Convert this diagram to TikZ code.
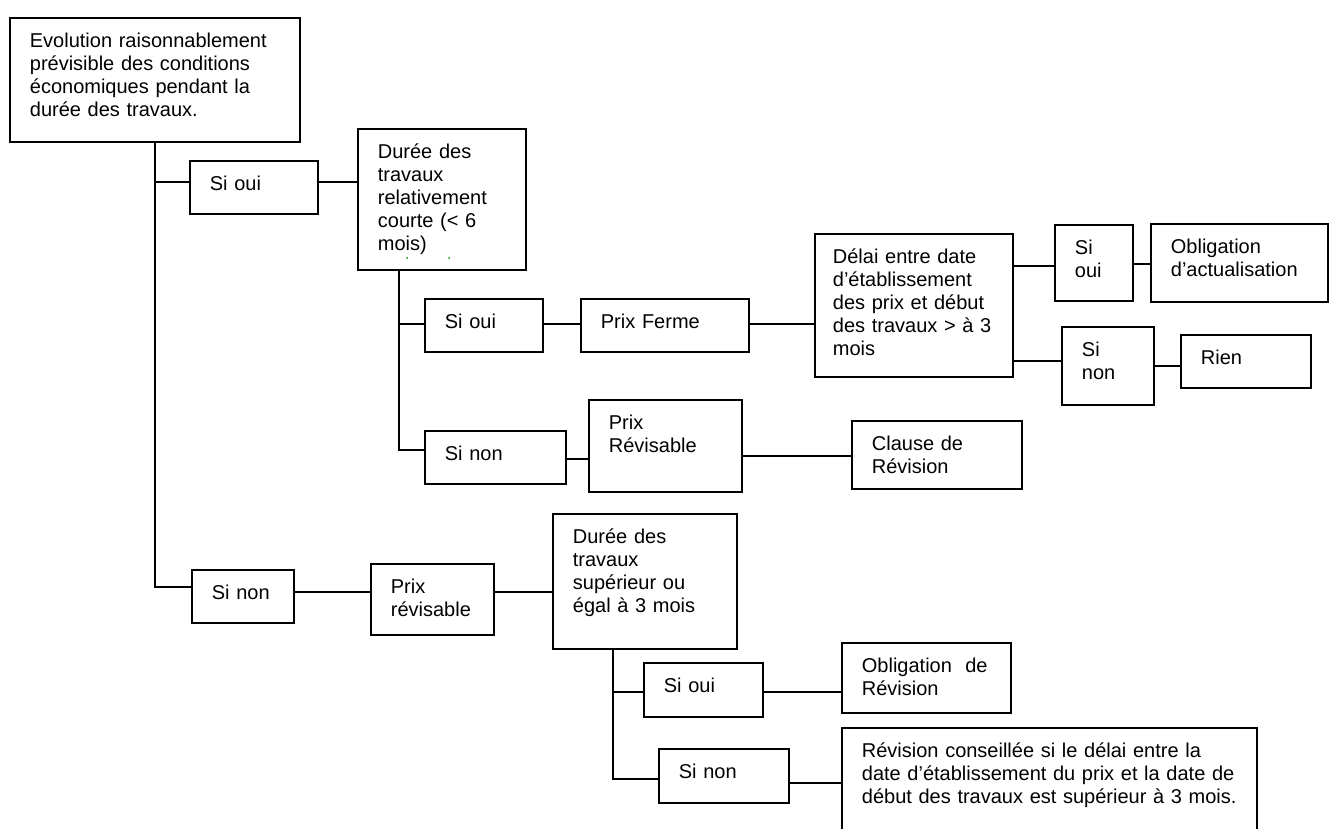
\documentclass[tikz,border=0pt]{standalone}
\usepackage{fontspec}
\setmainfont{Liberation Sans}

\tikzset{
  cell/.style={draw, line width=1.8pt, anchor=north west, align=left,
    inner xsep=20pt, inner ysep=0pt, text height=29.5pt, text depth=23.5pt,
    font=\fontsize{20}{23}\selectfont},
  link/.style={line width=1.5pt},
}

\begin{document}
\begin{tikzpicture}[x=1pt, y=-1pt]
  \useasboundingbox (0,0) rectangle (1330,829);

  \node[cell, text width=250pt, text depth=94.5pt] (evol) at (9,17)
    {Evolution raisonnablement\\prévisible des conditions\\économiques pendant la\\durée des travaux.};

  % premier cas : si oui
  \node[cell, text width=88pt] (soui1) at (189,160) {Si oui};
  \node[cell, text width=128pt, text depth=111.5pt] (durA) at (357,128)
    {Durée des\\travaux\\relativement\\courte (< 6\\mois)};
  \fill[green!60!black] (407,258) circle (1pt);
  \fill[green!60!black] (449,258) circle (1pt);

  \node[cell, text width=78pt] (soui2) at (424,298) {Si oui};
  \node[cell, text width=128pt] (ferme) at (580,298) {Prix Ferme};
  \node[cell, inner xsep=18pt, text width=162pt, text depth=113.5pt] (delai) at (814,233)
    {Délai entre date\\d’établissement\\des prix et début\\des travaux > à 3\\mois};
  \node[cell, text width=38pt, text depth=46.5pt] (souiS) at (1054,224) {Si\\oui};
  \node[cell, text width=137pt, text depth=48.5pt] (oblA) at (1150,223) {Obligation\\d’actualisation};
  \node[cell, text width=52pt, text depth=48.5pt] (snonS) at (1061,326) {Si\\non};
  \node[cell, text width=90pt] (rien) at (1180,334) {Rien};

  \node[cell, text width=101pt] (snon2) at (424,430) {Si non};
  \node[cell, text width=113pt, text depth=62.5pt] (prixR) at (588,399) {Prix\\Révisable};
  \node[cell, text width=130pt, text depth=38.5pt] (clause) at (851,420) {Clause de\\Révision};

  % second cas : si non
  \node[cell, text width=62pt] (snon1) at (191,569) {Si non};
  \node[cell, text width=83pt, text depth=41.5pt] (prixB) at (370,563) {Prix\\révisable};
  \node[cell, text width=144pt, text depth=105.5pt] (durB) at (552,513)
    {Durée des\\travaux\\supérieur ou\\égal à 3 mois};
  \node[cell, text width=79pt, text depth=24.5pt] (soui3) at (643,662) {Si oui};
  \node[cell, text width=129pt, text depth=40.5pt] (oblR) at (841,642) {Obligation\ \ de\\Révision};
  \node[cell, text width=90pt, text depth=24.5pt] (snon3) at (658,748) {Si non};
  \node[cell, text width=375pt, text depth=90.5pt] (revC) at (841,727)
    {Révision conseillée si le délai entre la\\date d’établissement du prix et la date de\\début des travaux est supérieur à 3 mois.};

  % liaisons
  \draw[link] (evol.south) |- ([yshift=5.5pt]soui1.west);
  \draw[link] (evol.south) |- ([yshift=9.5pt]snon1.west);
  \draw[link] ([yshift=5.5pt]soui1.east) -- ([yshift=17.5pt]durA.west);

  \draw[link] ([xshift=42pt]durA.south west) |- ([yshift=1.5pt]soui2.west);
  \draw[link] ([xshift=42pt]durA.south west) |- ([yshift=7.5pt]snon2.west);
  \draw[link] ([yshift=1.5pt]soui2.east) -- ([yshift=1.5pt]ferme.west);
  \draw[link] ([yshift=1.5pt]ferme.east) -- ([yshift=-18.5pt]delai.west);
  \draw[link] ([yshift=39.5pt]delai.east) -- ([yshift=-3pt]souiS.west);
  \draw[link] ([yshift=-1pt]souiS.east) -- ([yshift=-1pt]oblA.west);
  \draw[link] ([yshift=-55.5pt]delai.east) -- ([yshift=5pt]snonS.west);
  \draw[link] (snonS.east) -- ([yshift=-4.5pt]rien.west);
  \draw[link] ([yshift=-1.5pt]snon2.east) -- ([yshift=-13pt]prixR.west);
  \draw[link] ([yshift=-10pt]prixR.east) -- ([yshift=-1pt]clause.west);

  \draw[link] ([yshift=4.5pt]snon1.east) -- ([yshift=7.5pt]prixB.west);
  \draw[link] ([yshift=7.5pt]prixB.east) -- ([yshift=-10.5pt]durB.west);
  \draw[link] ([xshift=61pt]durB.south west) |- ([yshift=-2pt]soui3.west);
  \draw[link] ([xshift=61pt]durB.south west) |- ([yshift=-3pt]snon3.west);
  \draw[link] ([yshift=-2pt]soui3.east) -- ([yshift=-14pt]oblR.west);
  \draw[link] ([yshift=-7pt]snon3.east) -- ([yshift=5pt]revC.west);
\end{tikzpicture}
\end{document}
